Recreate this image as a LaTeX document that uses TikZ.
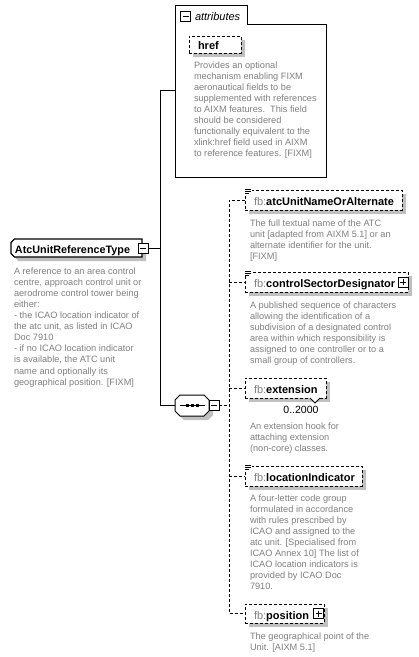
\documentclass[tikz,border=0pt]{standalone}
\usepackage{fontspec}
\setmainfont{Liberation Sans}
\usetikzlibrary{shadows,calc}
\definecolor{desctext}{RGB}{128,128,128}
\definecolor{shadowgray}{RGB}{192,192,192}
\definecolor{prefixgray}{RGB}{128,128,128}
\begin{document}
\begin{tikzpicture}[x=1pt,y=-1pt,
  every node/.style={inner sep=0pt,outer sep=0pt},
  shad/.style={drop shadow={shadow xshift=4pt,shadow yshift=-4pt,fill=shadowgray,opacity=1}},
  solidline/.style={line width=1pt},
  dashline/.style={line width=1pt,dash pattern=on 3pt off 2pt},
  elbox/.style={draw,dashline,fill=white,rectangle,shad,anchor=north west},
  frame/.style={rectangle,draw=none},
  desc/.style={anchor=north west,align=left,text=desctext,font=\fontsize{9.2pt}{11.1pt}\selectfont},
  elname/.style={anchor=base west,font=\fontsize{11pt}{13pt}\selectfont},
  togglebox/.style={draw,fill=white,line width=0.8pt,minimum size=10pt},
  minusbox/.style={togglebox,path picture={\draw[line width=0.8pt] ([xshift=2pt]path picture bounding box.west) -- ([xshift=-2pt]path picture bounding box.east);}},
  plusbox/.style={togglebox,path picture={\draw[line width=0.8pt] ([xshift=2pt]path picture bounding box.west) -- ([xshift=-2pt]path picture bounding box.east) ([yshift=-2pt]path picture bounding box.north) -- ([yshift=2pt]path picture bounding box.south);}},
  simpleicon/.pic={\fill[white] (-0.5,-2) rectangle (7,4); \draw[line width=0.7pt] (0,-1) -- (6,-1) (0,1) -- (6,1) (0,3) -- (4,3);}
]
\path[use as bounding box,fill=white] (0,0) rectangle (419,657);

% ---------- attributes group ----------
\draw[solidline,fill=white] (175,177) -- (175,5) -- (247,5) -- (247,24) -- (326,24) -- (326,177) -- cycle;
\node[minusbox] (attrmin) at (185.5,16) {};
\node[anchor=base west,font=\fontsize{11pt}{13pt}\selectfont\itshape] (attrlbl) at (195,20) {attributes};
\node[elbox,minimum width=52pt,minimum height=17pt] (href) at (189,36) {};
\node[elname,font=\fontsize{11pt}{13pt}\selectfont\bfseries] (hreflbl) at (198,49) {href};
\node[desc] (hrefdesc) at (194,61.5) {Provides an optional\\mechanism enabling FIXM\\aeronautical fields to be\\supplemented with references\\to AIXM features.\ \ This field\\should be considered\\functionally equivalent to the\\xlink:href field used in AIXM\\to reference features. [FIXM]};

% ---------- main element ----------
\node[frame,minimum width=131pt,minimum height=18pt] (main) at (76.5,248) {};
\draw[line width=1.2pt,fill=white,shad] (main.north east) -- ([xshift=3.5pt]main.north west) -- ([yshift=-3.5pt]main.north west) -- ([yshift=3.5pt]main.south west) -- ([xshift=3.5pt]main.south west) -- (main.south east) -- cycle;
\node[elname,font=\fontsize{10.8pt}{13pt}\selectfont\bfseries] (mainlbl) at (15,253.5) {AtcUnitReferenceType};
\node[minusbox] (mainmin) at (143,248.5) {};
\node[desc] (maindesc) at (14,267.5) {A reference to an area control\\centre, approach control unit or\\aerodrome control tower being\\either:\\- the ICAO location indicator of\\the atc unit, as listed in ICAO\\Doc 7910\\- if no ICAO location indicator\\is available, the ATC unit\\name and optionally its\\geographical position. [FIXM]};

% ---------- sequence compositor ----------
\node[frame,minimum width=34pt,minimum height=21pt] (seq) at (192,405.5) {};
\draw[solidline,fill=white,shad] ([xshift=5pt]seq.north west) -- ([xshift=-5pt]seq.north east) -- ([yshift=-5pt]seq.north east) -- ([yshift=5pt]seq.south east) -- ([xshift=-5pt]seq.south east) -- ([xshift=5pt]seq.south west) -- ([yshift=5pt]seq.south west) -- ([yshift=-5pt]seq.north west) -- cycle;
\draw[line width=0.8pt] ([xshift=-12pt]seq.center) -- ([xshift=13pt]seq.center);
\foreach \dx in {-5,0,5}{\fill ($(seq.center)+(\dx-1.5,-1.5)$) rectangle ++(3,3);}
\node[minusbox] (seqmin) at (214,405.5) {};

% ---------- solid connectors ----------
\coordinate (spinemain) at (160,248.5);
\coordinate (spinetop) at (160,90);
\coordinate (spinebot) at (160,405.5);
\coordinate (attrin) at (175,90);
\draw[solidline] (mainmin.east) -- (spinemain);
\draw[solidline] (attrin) -- (spinetop) -- (spinebot) -- (seq.west);

% ---------- children ----------
\coordinate (dspine) at (229,405.5);
\node[elbox,minimum width=157pt,minimum height=20pt] (atc) at (245,190) {};
\node[elbox,minimum width=163pt,minimum height=20pt] (csd) at (245,272) {};
\node[elbox,minimum width=81pt,minimum height=20pt] (ext) at (245,378) {};
\node[elbox,minimum width=117pt,minimum height=20pt] (loc) at (245,466) {};
\node[elbox,minimum width=79pt,minimum height=19pt] (pos) at (245,604) {};

\draw[dashline] (seqmin.east) -- (dspine);
\draw[dashline] (atc.west) -- (atc.west -| dspine) -- (pos.west -| dspine) -- (pos.west);
\draw[dashline] (csd.west -| dspine) -- (csd.west);
\draw[dashline] (ext.west -| dspine) -- (ext.west);
\draw[dashline] (loc.west -| dspine) -- (loc.west);

\pic at (atc.north west) {simpleicon};
\pic at (csd.north west) {simpleicon};
\pic at (loc.north west) {simpleicon};

\node[elname] (atclbl) at (254,205.5) {\textcolor{prefixgray}{fb:}\textbf{atcUnitNameOrAlternate}};
\node[desc] (atcdesc) at (250,219.5) {The full textual name of the ATC\\unit [adapted from AIXM 5.1] or an\\alternate identifier for the unit.\\[0pt][FIXM]};

\node[elname] (csdlbl) at (254,287.5) {\textcolor{prefixgray}{fb:}\textbf{controlSectorDesignator}};
\node[plusbox] (csdplus) at (403,282) {};
\node[desc] (csddesc) at (250,301.5) {A published sequence of characters\\allowing the identification of a\\subdivision of a designated control\\area within which responsibility is\\assigned to one controller or to a\\small group of controllers.};

\node[elname] (extlbl) at (254,393.5) {\textcolor{prefixgray}{fb:}\textbf{extension}};
\draw[line width=0.8pt,fill=white] ($(ext.south west)+(65,0)$) -- ++(5,5) -- ++(5,-5);
\node[font=\fontsize{10.5pt}{12pt}\selectfont] (extmult) at (301,410) {0..2000};
\node[desc] (extdesc) at (250,422.5) {An extension hook for\\attaching extension\\(non-core) classes.};

\node[elname] (loclbl) at (254,481.5) {\textcolor{prefixgray}{fb:}\textbf{locationIndicator}};
\node[desc] (locdesc) at (250,494.5) {A four-letter code group\\formulated in accordance\\with rules prescribed by\\ICAO and assigned to the\\atc unit. [Specialised from\\ICAO Annex 10] The list of\\ICAO location indicators is\\provided by ICAO Doc\\7910.};

\node[elname] (poslbl) at (254,619) {\textcolor{prefixgray}{fb:}\textbf{position}};
\node[plusbox] (posplus) at (318.5,613.5) {};
\node[desc] (posdesc) at (250,632.5) {The geographical point of the\\Unit. [AIXM 5.1]};
\end{tikzpicture}
\end{document}
